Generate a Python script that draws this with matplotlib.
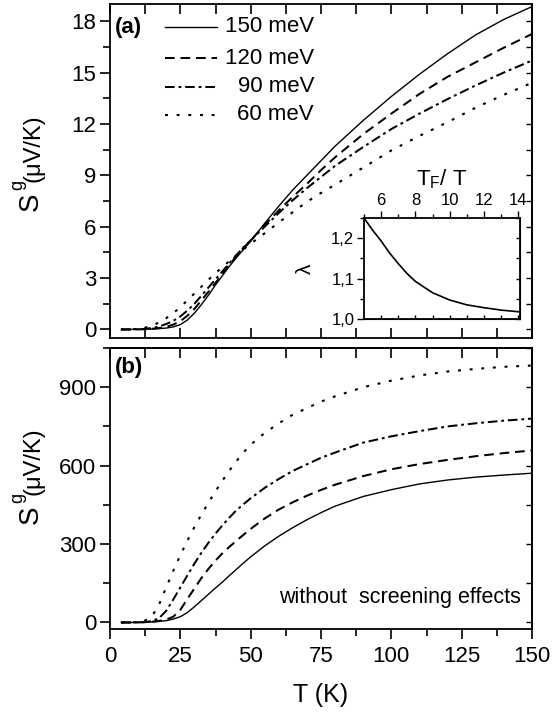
import matplotlib
matplotlib.use("Agg")
import matplotlib.pyplot as plt
import numpy as np
from matplotlib.ticker import MultipleLocator

plt.rcParams['font.family'] = ['Liberation Sans', 'DejaVu Sans']
plt.rcParams['mathtext.fontset'] = 'custom'
plt.rcParams['mathtext.rm'] = 'Liberation Sans'
plt.rcParams['mathtext.it'] = 'Liberation Sans'

# ---------------- data ----------------
T = [4, 8, 12, 15, 17.5, 20, 22.5, 25, 27.5, 30, 32.5, 35, 37.5, 40, 42.5, 45, 47.5, 50,
     55, 60, 65, 70, 75, 80, 90, 100, 110, 120, 130, 140, 150]

labels = ["150 meV", "120 meV", "90 meV", "60 meV"]

# panel (a): with screening
Sa_150 = [0, 0, 0.01, 0.02, 0.05, 0.08, 0.15, 0.28, 0.55, 0.95, 1.45, 2.0, 2.6, 3.15, 3.7, 4.2, 4.68, 5.15,
          6.2, 7.2, 8.15, 9.0, 9.85, 10.7, 12.2, 13.6, 14.9, 16.1, 17.2, 18.1, 18.85]
Sa_120 = [0, 0, 0.01, 0.04, 0.08, 0.16, 0.28, 0.48, 0.8, 1.2, 1.7, 2.2, 2.72, 3.25, 3.78, 4.3, 4.77, 5.2,
          6.1, 6.95, 7.75, 8.5, 9.3, 10.05, 11.4, 12.6, 13.75, 14.75, 15.6, 16.45, 17.25]
Sa_90 = [0, 0, 0.03, 0.08, 0.17, 0.32, 0.5, 0.76, 1.1, 1.5, 1.97, 2.45, 2.93, 3.4, 3.88, 4.35, 4.8, 5.2,
         6.0, 6.8, 7.55, 8.25, 8.9, 9.55, 10.65, 11.7, 12.6, 13.45, 14.25, 15.0, 15.7]
Sa_60 = [0, 0.01, 0.08, 0.22, 0.42, 0.66, 0.95, 1.3, 1.7, 2.1, 2.5, 2.9, 3.28, 3.65, 4.0, 4.35, 4.68, 5.0,
         5.62, 6.25, 6.85, 7.45, 7.97, 8.45, 9.45, 10.45, 11.3, 12.1, 12.95, 13.7, 14.4]

# panel (b): without screening
Sb_150 = [0, 0, 0.5, 2, 4, 7, 13, 22, 38, 60, 84, 108, 132, 155, 180, 204, 228, 251,
          293, 330, 363, 393, 420, 445, 482, 508, 530, 545, 556, 564, 571]
Sb_120 = [0, 0, 1, 3, 6, 11, 22, 48, 90, 130, 170, 205, 237, 265, 290, 313, 336, 358,
          398, 432, 460, 485, 507, 527, 560, 586, 606, 622, 636, 648, 658]
Sb_90 = [0, 0, 1, 5, 17, 45, 88, 134, 180, 225, 267, 305, 340, 372, 402, 430, 453, 475,
         515, 549, 580, 605, 630, 650, 688, 712, 732, 750, 762, 772, 780]
Sb_60 = [0, 0, 4, 25, 70, 135, 198, 257, 313, 365, 413, 458, 502, 543, 582, 618, 651, 680,
         725, 762, 795, 820, 845, 865, 900, 925, 945, 960, 970, 978, 983]

# inset
TF_over_T = [5, 5.5, 6, 6.5, 7, 7.5, 8, 9, 10, 11, 12, 13, 14]
lam = [1.25, 1.22, 1.193, 1.163, 1.137, 1.113, 1.093, 1.065, 1.047, 1.035, 1.028, 1.022, 1.018]

# ---------------- styles ----------------
widths = [1.0, 1.45, 1.45, 1.5]
styles = ['-', (0, (4.8, 2.9)), (0, (4.8, 1.9, 1.4, 1.9)), (0, (1.4, 4.2))]

W, H = 552, 714
fig = plt.figure(figsize=(W / 100, H / 100), dpi=100)

def fx(px):
    return px / W

def fy(py):
    return 1 - py / H

axA = fig.add_axes([fx(110), fy(338), fx(532) - fx(110), fy(4) - fy(338)])
axB = fig.add_axes([fx(110), fy(629), fx(532) - fx(110), fy(348) - fy(629)])
axI = fig.add_axes([fx(364), fy(319), fx(520) - fx(364), fy(218) - fy(319)])

tick_fs = 16
for ax in (axA, axB, axI):
    for s in ax.spines.values():
        s.set_linewidth(1.3)

# ---- panel (a)
for y, ls, w in zip([Sa_150, Sa_120, Sa_90, Sa_60], styles, widths):
    axA.plot(T, y, color='black', lw=w, linestyle=ls)
axA.set_xlim(0, 150)
axA.set_ylim(-0.5, 19)
axA.xaxis.set_major_locator(MultipleLocator(25))
axA.xaxis.set_minor_locator(MultipleLocator(12.5))
axA.yaxis.set_major_locator(MultipleLocator(3))
axA.yaxis.set_minor_locator(MultipleLocator(1.5))
axA.tick_params(axis='x', which='both', direction='in', bottom=True, top=True,
                labelbottom=False, length=7, width=1.2)
axA.tick_params(axis='y', which='major', direction='out', left=True, right=False,
                length=7, width=1.2, labelsize=tick_fs, pad=3)
axA.tick_params(axis='y', which='minor', direction='out', left=True, right=False,
                length=5, width=1.2)
secA = axA.secondary_yaxis('right')
secA.set_yticks(np.arange(0, 19.5, 1.5))
secA.tick_params(direction='in', length=4, width=1.0, labelright=False)
secA.spines['right'].set_linewidth(1.3)

# legend (manual)
leg_y = [27, 58, 87, 115]
for ls, w, lab, py in zip(styles, widths, labels, leg_y):
    ya = (338 - py) / 334
    axA.plot([(165 - 110) / 422, (217 - 110) / 422], [ya, ya], transform=axA.transAxes,
             color='black', lw=w, linestyle=ls)
    axA.text((314 - 110) / 422, ya, lab, transform=axA.transAxes, ha='right', va='center',
             fontsize=tick_fs)
axA.text(0.012, (338 - 27) / 334, "(a)", transform=axA.transAxes, fontsize=16,
         fontweight='bold', ha='left', va='center')

# ---- panel (b)
for y, ls, w in zip([Sb_150, Sb_120, Sb_90, Sb_60], styles, widths):
    axB.plot(T, y, color='black', lw=w, linestyle=ls)
axB.set_xlim(0, 150)
axB.set_ylim(-25, 1050)
axB.xaxis.set_major_locator(MultipleLocator(25))
axB.xaxis.set_minor_locator(MultipleLocator(12.5))
axB.yaxis.set_major_locator(MultipleLocator(300))
axB.yaxis.set_minor_locator(MultipleLocator(150))
axB.tick_params(axis='x', which='major', direction='out', bottom=True, top=False,
                length=7, width=1.2, labelsize=tick_fs, pad=5)
axB.tick_params(axis='x', which='minor', direction='out', bottom=True, top=False,
                length=5, width=1.2)
axB.tick_params(axis='y', which='major', direction='out', left=True, right=False,
                length=7, width=1.2, labelsize=tick_fs, pad=3)
axB.tick_params(axis='y', which='minor', direction='out', left=True, right=False,
                length=5, width=1.2)
secBx = axB.secondary_xaxis('top')
secBx.set_xticks(np.arange(0, 151, 12.5))
secBx.tick_params(direction='in', length=7, width=1.2, labeltop=False)
secBx.spines['top'].set_linewidth(1.3)
secBy = axB.secondary_yaxis('right')
secBy.set_yticks(np.arange(0, 1051, 150))
secBy.tick_params(direction='in', length=4, width=1.0, labelright=False)
secBy.spines['right'].set_linewidth(1.3)
axB.set_xlabel("T (K)", fontsize=18, labelpad=12)
axB.text(0.012, (629 - 367) / 281, "(b)", transform=axB.transAxes, fontsize=16,
         fontweight='bold', ha='left', va='center')
axB.text((521 - 110) / 422, (629 - 598) / 281, "without  screening effects",
         transform=axB.transAxes, fontsize=15.5, ha='right', va='center')

# y labels (S^g (μV/K)) built from pieces
for yS, yg, yu in [(211, 190, 182), (524, 503, 495)]:
    fig.text(fx(38), fy(yS), "S", fontsize=20, rotation=90, rotation_mode='anchor',
             ha='left', va='baseline')
    fig.text(fx(22), fy(yg), "g", fontsize=13, rotation=90, rotation_mode='anchor',
             ha='left', va='baseline')
    fig.text(fx(39), fy(yu), "(\u03bcV/K)", fontsize=17, rotation=90, rotation_mode='anchor',
             ha='left', va='baseline')

# ---- inset
axI.plot(TF_over_T, lam, color='black', lw=1.2)
axI.set_xlim(5, 14.1)
axI.set_ylim(1.0, 1.25)
axI.xaxis.set_major_locator(MultipleLocator(2))
axI.xaxis.set_minor_locator(MultipleLocator(1))
axI.yaxis.set_minor_locator(MultipleLocator(0.05))
axI.set_yticks([1.0, 1.1, 1.2])
axI.set_yticklabels(["1,0", "1,1", "1,2"])
axI.xaxis.tick_top()
axI.xaxis.set_label_position('top')
axI.tick_params(axis='x', which='major', direction='out', top=True, bottom=False,
                length=5, width=1.0, labelsize=12, pad=2)
axI.tick_params(axis='x', which='minor', direction='out', top=True, bottom=False,
                length=3, width=1.0)
axI.tick_params(axis='y', which='major', direction='out', left=True, right=False,
                length=5, width=1.0, labelsize=12, pad=2)
axI.tick_params(axis='y', which='minor', direction='out', left=True, right=False,
                length=3, width=1.0)
secIx = axI.secondary_xaxis('bottom')
secIx.set_xticks(np.arange(6, 14.1, 1))
secIx.tick_params(direction='in', length=3, width=1.0, labelbottom=False)
secIy = axI.secondary_yaxis('right')
secIy.set_yticks(np.arange(1.0, 1.26, 0.05))
secIy.tick_params(direction='in', length=3, width=1.0, labelright=False)
axI.set_xlabel("T$_\\mathregular{F}$/ T", fontsize=16, labelpad=6)
axI.set_ylabel("\u03bb", fontsize=15, labelpad=12)

fig.savefig("out.png", dpi=100)
